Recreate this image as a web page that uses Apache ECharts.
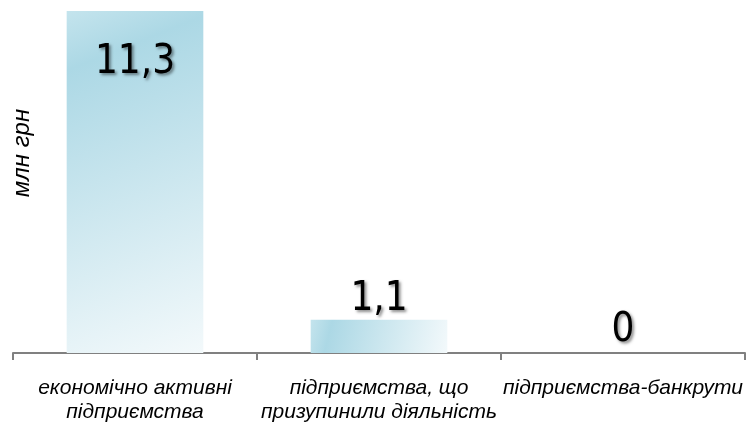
<!DOCTYPE html>
<html><head><meta charset="utf-8">
<script src="https://cdn.jsdelivr.net/npm/echarts@6/dist/echarts.min.js"></script>
<style>html,body{margin:0;padding:0;background:#fff}#c{width:747px;height:428px}</style>
</head><body><div id="c"></div>
<script>
const categories = ['економічно активні\nпідприємства', 'підприємства, що\nпризупинили діяльність', 'підприємства-банкрути'];
const values = [11.3, 1.1, 0];
const valueLabels = ['11,3', '1,1', '0'];
const yName = 'млн грн';

const chart = echarts.init(document.getElementById('c'));
const grad = new echarts.graphic.LinearGradient(0, 0, 1, 1, [
  {offset: 0, color: '#c4e4ed'},
  {offset: 0.15, color: '#acd8e5'},
  {offset: 1, color: '#f3f9fb'}
]);
const numFont = {fontFamily: 'DejaVu Sans Condensed', fontSize: 40, color: '#000',
  textShadowColor: 'rgba(0,0,0,0.45)', textShadowBlur: 3, textShadowOffsetX: 2, textShadowOffsetY: 2};
chart.setOption({
  animation: false,
  grid: {left: 13, right: 2, top: 11, bottom: 75},
  xAxis: {
    type: 'category', data: categories,
    axisLine: {lineStyle: {color: '#808080', width: 2}},
    axisTick: {show: true, lineStyle: {color: '#808080', width: 2}, length: 7},
    axisLabel: {fontFamily: 'Liberation Sans', fontStyle: 'italic', fontSize: 21, color: '#000', lineHeight: 24, margin: 23, interval: 0}
  },
  yAxis: {
    type: 'value', min: 0, max: 11.3, show: false
  },
  graphic: [{
    type: 'text', x: 22, y: 153, rotation: Math.PI / 2,
    style: {text: yName, font: 'italic 24px "Liberation Sans"', fill: '#000', textAlign: 'center', textVerticalAlign: 'middle'}
  }],
  series: [{
    type: 'bar', data: values.map((v, i) => ({
      value: v,
      label: i === 0 ? {show: true, position: 'insideTop', distance: 32, formatter: valueLabels[i], ...numFont}
                     : {show: true, position: 'top', distance: i === 1 ? 0 : 2, formatter: valueLabels[i], ...numFont}
    })),
    barCategoryGap: '44%',
    itemStyle: {color: grad}
  }]
});
</script></body></html>
